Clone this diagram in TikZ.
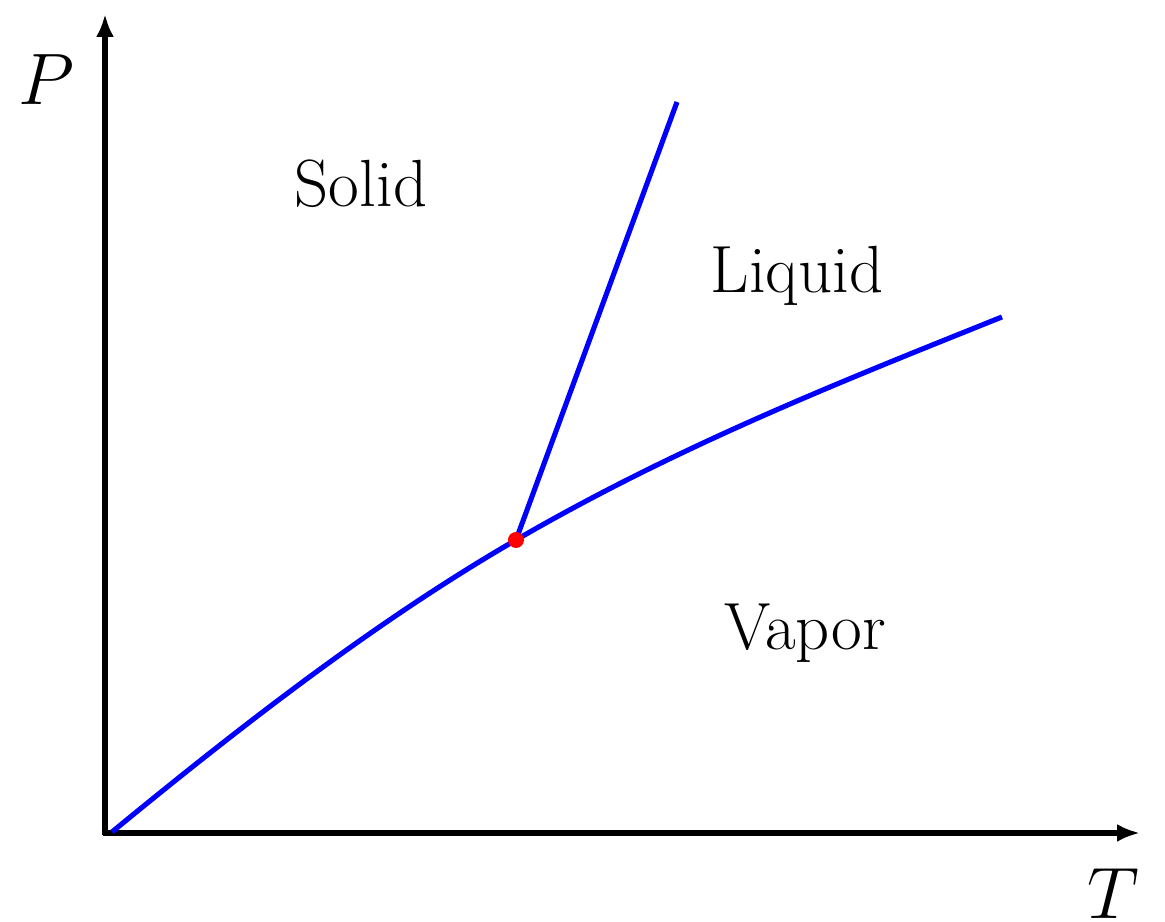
\documentclass[tikz,border=0pt]{standalone}
\usetikzlibrary{arrows.meta}
\begin{document}
\begin{tikzpicture}[
  axis/.style={line width=1.45pt,-{Latex[length=0.23cm,width=0.18cm]}},
  phase/.style={blue,line width=1.45pt},
  lbl/.style={font=\fontsize{19}{23}\selectfont,inner sep=0pt,anchor=base}
]
\useasboundingbox (0,0) rectangle (11.65,9.22);
\coordinate (Ybot) at (1.05,0.87);
\coordinate (Ytop) at (1.05,9.08);
\coordinate (Xbeg) at (1.03,0.89);
\coordinate (Xend) at (11.40,0.89);
\coordinate (A) at (1.12,0.90);
\coordinate (tp) at (5.16,3.82);
\coordinate (B) at (10.02,6.05);
\coordinate (mend) at (6.77,8.20);
\draw[axis] (Ybot) -- (Ytop);
\draw[axis] (Xbeg) -- (Xend);
\draw[phase] (A) .. controls (2.47,2.01) and (3.81,3.04) .. (tp)
  .. controls (6.78,4.76) and (8.40,5.40) .. (B);
\draw[phase] (tp) -- (mend);
\fill[red] (tp) circle (0.08);
\node[font=\fontsize{20}{24}\selectfont,inner sep=0pt] (P) at (0.46,8.42) {$P$};
\node[font=\fontsize{20}{24}\selectfont,inner sep=0pt] (T) at (11.13,0.28) {$T$};
\node[lbl] (solid) at (3.61,7.15) {Solid};
\node[lbl] (liquid) at (7.97,6.29) {Liquid};
\node[lbl] (vapor) at (8.05,2.72) {Vapor};
\end{tikzpicture}
\end{document}
